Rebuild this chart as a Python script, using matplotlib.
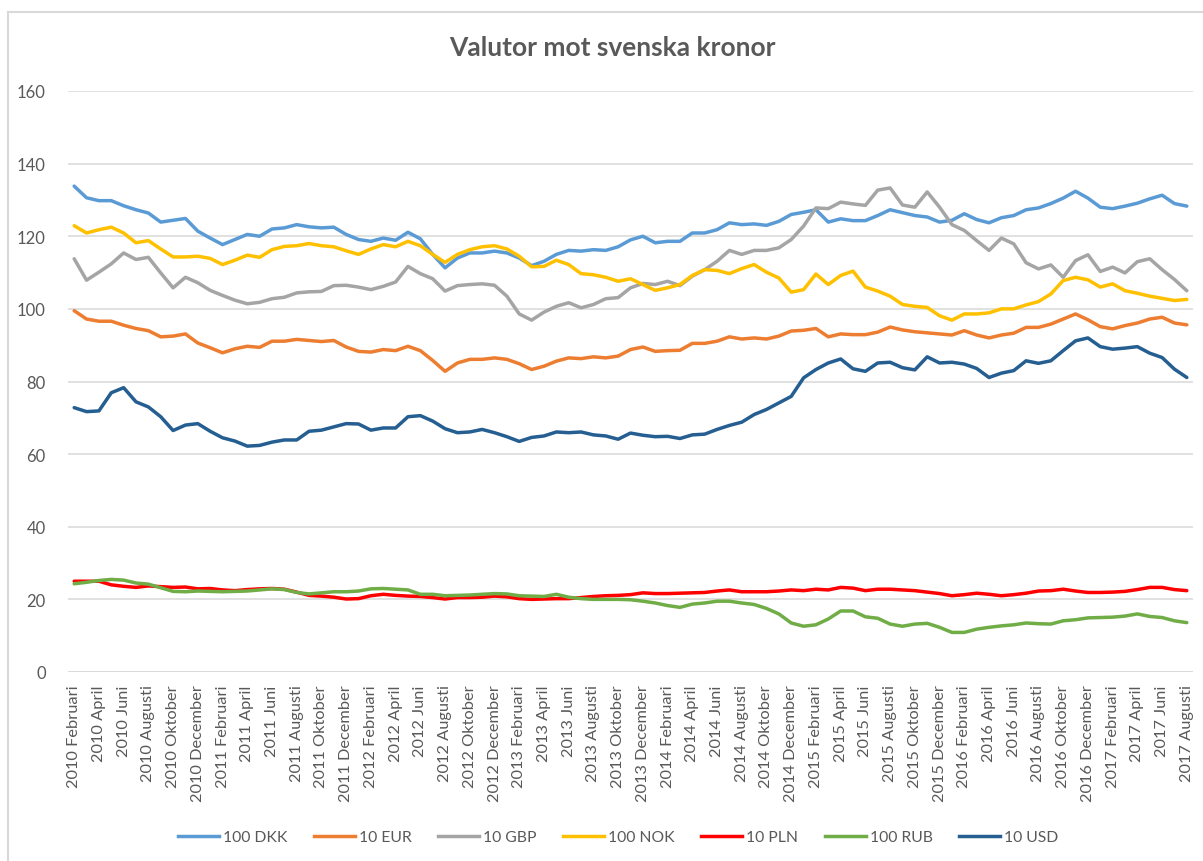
import matplotlib
matplotlib.use("Agg")
import matplotlib.pyplot as plt
from matplotlib.lines import Line2D

plt.rcParams['font.family'] = ['Lato', 'DejaVu Sans']

MONTH_NAMES = ["Januari", "Februari", "Mars", "April", "Maj", "Juni", "Juli",
               "Augusti", "September", "Oktober", "November", "December"]
START_YEAR, START_MONTH = 2010, 2   # 2010 Februari
N_MONTHS = 91                        # through 2017 Augusti

categories = []
for k in range(N_MONTHS):
    m = START_MONTH - 1 + k
    categories.append(f"{START_YEAR + m // 12} {MONTH_NAMES[m % 12]}")

dkk_100 = [133.8, 130.6, 129.8, 129.8, 128.4, 127.3, 126.4, 123.9, 124.4, 124.9,
           121.4, 119.5, 117.7, 119.1, 120.5, 120.0, 122.0, 122.3, 123.2, 122.6,
           122.3, 122.5, 120.5, 119.1, 118.6, 119.5, 118.9, 121.1, 119.3, 115.0,
           111.3, 114.0, 115.4, 115.4, 115.9, 115.4, 114.0, 111.9, 113.1, 115.0,
           116.1, 115.9, 116.3, 116.1, 117.1, 119.0, 120.0, 118.2, 118.6, 118.6,
           120.9, 120.9, 121.8, 123.7, 123.2, 123.4, 123.0, 124.1, 126.0, 126.6,
           127.3, 123.9, 124.8, 124.3, 124.3, 125.7, 127.3, 126.5, 125.7, 125.3,
           123.9, 124.4, 126.2, 124.6, 123.7, 125.1, 125.7, 127.3, 127.8, 129.0,
           130.5, 132.4, 130.5, 128.0, 127.6, 128.3, 129.1, 130.3, 131.3, 129.0,
           128.3]
eur_10 = [99.5, 97.2, 96.6, 96.6, 95.5, 94.6, 94.0, 92.3, 92.5, 93.1,
          90.6, 89.3, 87.9, 89.0, 89.7, 89.4, 91.1, 91.1, 91.6, 91.3,
          91.0, 91.3, 89.5, 88.3, 88.1, 88.8, 88.5, 89.7, 88.5, 85.8,
          82.8, 85.1, 86.1, 86.1, 86.5, 86.1, 84.9, 83.3, 84.2, 85.6,
          86.5, 86.3, 86.8, 86.5, 87.0, 88.8, 89.5, 88.3, 88.5, 88.6,
          90.5, 90.5, 91.1, 92.3, 91.7, 92.0, 91.7, 92.5, 93.9, 94.1,
          94.6, 92.3, 93.1, 92.9, 92.9, 93.6, 95.0, 94.2, 93.7, 93.4,
          93.1, 92.8, 94.0, 92.8, 92.0, 92.8, 93.3, 94.9, 94.9, 95.8,
          97.2, 98.6, 97.0, 95.1, 94.5, 95.4, 96.1, 97.2, 97.7, 96.1,
          95.6]
gbp_10 = [113.8, 107.9, 110.1, 112.4, 115.4, 113.6, 114.2, 109.9, 105.8, 108.7,
          107.2, 105.1, 103.7, 102.4, 101.4, 101.8, 102.8, 103.2, 104.4, 104.7,
          104.8, 106.4, 106.5, 106.0, 105.3, 106.2, 107.4, 111.7, 109.7, 108.3,
          104.9, 106.4, 106.7, 106.9, 106.5, 103.5, 98.6, 96.9, 99.1, 100.7,
          101.7, 100.3, 101.2, 102.8, 103.1, 105.8, 107.0, 106.7, 107.6, 106.4,
          109.0, 110.8, 113.1, 116.1, 115.0, 116.1, 116.1, 116.8, 119.1, 122.8,
          127.8, 127.6, 129.4, 128.9, 128.5, 132.7, 133.3, 128.6, 128.0, 132.2,
          128.0, 123.2, 121.6, 118.8, 116.1, 119.5, 117.9, 112.7, 111.0, 112.1,
          108.7, 113.3, 114.9, 110.3, 111.5, 109.9, 113.0, 113.8, 110.8, 108.1,
          105.0]
nok_100 = [122.9, 120.9, 121.8, 122.5, 120.9, 118.2, 118.8, 116.5, 114.3, 114.3,
           114.5, 113.9, 112.2, 113.4, 114.8, 114.2, 116.3, 117.2, 117.4, 118.0,
           117.4, 117.1, 116.0, 115.0, 116.5, 117.7, 117.1, 118.6, 117.4, 115.0,
           112.8, 115.0, 116.3, 117.1, 117.4, 116.5, 114.5, 111.6, 111.7, 113.4,
           112.2, 109.7, 109.4, 108.7, 107.6, 108.3, 106.7, 105.1, 105.8, 106.7,
           109.2, 110.8, 110.6, 109.7, 111.1, 112.2, 110.1, 108.5, 104.6, 105.3,
           109.6, 106.7, 109.2, 110.4, 106.0, 104.9, 103.5, 101.2, 100.7, 100.4,
           98.1, 96.9, 98.6, 98.6, 98.9, 100.0, 100.0, 101.1, 102.0, 104.1,
           107.8, 108.7, 108.0, 106.0, 106.9, 105.0, 104.3, 103.5, 102.9, 102.3,
           102.6]
pln_10 = [25.0, 25.0, 25.0, 24.0, 23.6, 23.3, 23.7, 23.5, 23.3, 23.4,
          22.9, 23.0, 22.6, 22.4, 22.7, 22.9, 23.0, 22.8, 22.0, 21.1,
          20.9, 20.6, 20.1, 20.2, 21.0, 21.4, 21.1, 20.9, 20.8, 20.5,
          20.1, 20.5, 20.5, 20.6, 20.9, 20.7, 20.2, 20.0, 20.1, 20.2,
          20.2, 20.5, 20.8, 21.0, 21.1, 21.3, 21.8, 21.6, 21.6, 21.7,
          21.8, 21.9, 22.3, 22.6, 22.1, 22.1, 22.1, 22.3, 22.6, 22.4,
          22.8, 22.6, 23.3, 23.1, 22.4, 22.8, 22.8, 22.6, 22.4, 22.0,
          21.6, 21.0, 21.3, 21.7, 21.4, 21.0, 21.3, 21.7, 22.3, 22.4,
          22.8, 22.3, 21.9, 21.9, 22.0, 22.2, 22.7, 23.3, 23.3, 22.7,
          22.4]
rub_100 = [24.3, 24.7, 25.2, 25.5, 25.3, 24.5, 24.2, 23.2, 22.2, 22.1,
           22.3, 22.2, 22.1, 22.2, 22.3, 22.6, 22.9, 22.7, 21.9, 21.5,
           21.8, 22.1, 22.1, 22.3, 22.9, 23.0, 22.8, 22.6, 21.4, 21.4,
           21.0, 21.1, 21.2, 21.4, 21.6, 21.5, 21.0, 20.9, 20.8, 21.4,
           20.6, 20.2, 20.0, 20.0, 20.0, 19.9, 19.5, 19.0, 18.3, 17.8,
           18.7, 19.0, 19.5, 19.5, 19.0, 18.6, 17.5, 16.0, 13.5, 12.6,
           13.0, 14.6, 16.8, 16.8, 15.2, 14.8, 13.2, 12.6, 13.2, 13.4,
           12.3, 10.9, 10.9, 11.8, 12.3, 12.7, 13.0, 13.5, 13.3, 13.2,
           14.1, 14.4, 14.9, 15.0, 15.1, 15.4, 16.0, 15.3, 15.0, 14.1,
           13.6]
usd_10 = [72.8, 71.7, 71.9, 76.9, 78.3, 74.4, 73.0, 70.3, 66.5, 68.0,
          68.4, 66.3, 64.5, 63.6, 62.2, 62.4, 63.3, 63.9, 63.9, 66.3,
          66.6, 67.5, 68.4, 68.3, 66.6, 67.2, 67.2, 70.3, 70.6, 69.1,
          67.0, 65.9, 66.1, 66.8, 65.9, 64.8, 63.5, 64.6, 65.0, 66.1,
          65.9, 66.1, 65.3, 65.0, 64.1, 65.8, 65.2, 64.8, 64.9, 64.3,
          65.3, 65.5, 66.8, 67.9, 68.8, 70.9, 72.3, 74.1, 75.9, 81.0,
          83.3, 85.1, 86.2, 83.5, 82.8, 85.1, 85.3, 83.8, 83.2, 86.8,
          85.1, 85.3, 84.8, 83.6, 81.1, 82.3, 83.0, 85.7, 85.0, 85.7,
          88.5, 91.2, 92.0, 89.6, 88.9, 89.2, 89.6, 87.8, 86.6, 83.4,
          81.1]

series_names = ["100 DKK", "10 EUR", "10 GBP", "100 NOK", "10 PLN", "100 RUB", "10 USD"]
series_values = [dkk_100, eur_10, gbp_10, nok_100, pln_10, rub_100, usd_10]
series_colors = ["#5B9BD5", "#ED7D31", "#A5A5A5", "#FFC000", "#FF0000", "#70AD47", "#255E91"]
y_ticks = [0, 20, 40, 60, 80, 100, 120, 140, 160]

TEXT = "#595959"
GRID = "#D9D9D9"

fig = plt.figure(figsize=(12.03, 8.62), dpi=100)
ax = fig.add_axes([68 / 1203, 1 - 673 / 862, (1193 - 68) / 1203, (673 - 92) / 862])

x = list(range(len(categories)))
for name, vals, col in zip(series_names, series_values, series_colors):
    ax.plot(x, vals, color=col, lw=2.5, solid_joinstyle='round',
            solid_capstyle='round', label=name, zorder=3)

ax.set_xlim(-0.5, len(categories) - 0.5)
ax.set_ylim(0, 160)
ax.set_yticks(y_ticks)
ax.set_yticklabels([str(t) for t in y_ticks])
ax.yaxis.grid(True, color=GRID, lw=1.1, zorder=0)
ax.set_axisbelow(True)
for s in ax.spines.values():
    s.set_visible(False)
ax.axhline(0, color=GRID, lw=1.1, zorder=1)

xt = list(range(0, len(categories), 2))
ax.set_xticks(xt)
ax.set_xticklabels([categories[i] for i in xt], rotation=90, fontsize=11.8,
                   color=TEXT, va='top', ha='center')
ax.tick_params(axis='x', length=0, pad=9)
ax.tick_params(axis='y', length=0, pad=16, labelsize=12, labelcolor=TEXT)

fig.text(0.509, 1 - 48 / 862, "Valutor mot svenska kronor", ha='center', va='center',
         fontsize=19, fontweight='bold', color=TEXT)

leg_handles = [Line2D([0], [0], color=c, lw=2.5) for c in series_colors]
fig.legend(leg_handles, series_names, loc='center', bbox_to_anchor=(0.514, 1 - 838 / 862),
           ncol=7, frameon=False, fontsize=11.3, handlelength=2.6, handletextpad=0.25,
           columnspacing=1.7, labelcolor=TEXT)

# chart area border (top and left edges visible in reference)
fig.add_artist(Line2D([8 / 1203, 1], [1 - 13 / 862, 1 - 13 / 862], color=GRID, lw=1.5,
                      transform=fig.transFigure))
fig.add_artist(Line2D([8 / 1203, 8 / 1203], [0, 1 - 13 / 862], color=GRID, lw=1.5,
                      transform=fig.transFigure))

fig.savefig("out.png", dpi=100, facecolor='white')
